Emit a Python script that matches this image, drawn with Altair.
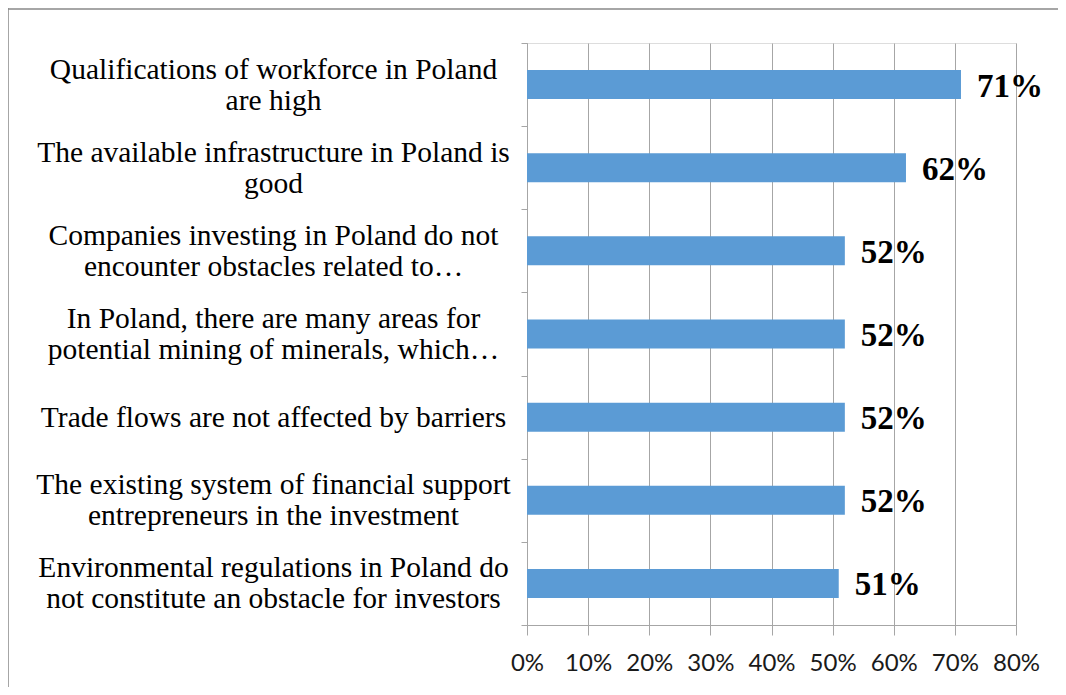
import altair as alt
import pandas as pd

categories = [
    "Qualifications of workforce in Poland|are high",
    "The available infrastructure in Poland is|good",
    "Companies investing in Poland do not|encounter obstacles related to…",
    "In Poland, there are many areas for|potential mining of minerals, which…",
    "Trade flows are not affected by barriers",
    "The existing system of financial support|entrepreneurs in the investment",
    "Environmental regulations in Poland do|not constitute an obstacle for investors",
]
values = [0.71, 0.62, 0.52, 0.52, 0.52, 0.52, 0.51]
x_ticks = [0, 0.1, 0.2, 0.3, 0.4, 0.5, 0.6, 0.7, 0.8]

df = pd.DataFrame({"cat": categories, "value": values})

GRID = "#A6A6A6"

y_enc = alt.Y(
    "cat:N",
    sort=categories,
    scale=alt.Scale(paddingInner=0, paddingOuter=0),
    axis=alt.Axis(
        title=None,
        labelExpr="split(datum.label, '|')",
        labelFont="Liberation Serif",
        labelFontSize=29.5,
        labelColor="#000000",
        labelAlign="center",
        labelPadding=248,
        labelLimit=900,
        labelLineHeight=31,
        labelOffset={
            "condition": {"test": "indexof(datum.label, '|') >= 0", "value": -15.5},
            "value": 0,
        },
        tickSize=6,
        tickColor=GRID,
        domainColor=GRID,
        tickBand="extent",
        grid=False,
    ),
)

x_enc = alt.X(
    "value:Q",
    scale=alt.Scale(domain=[0, 0.8], nice=False),
    axis=alt.Axis(
        title=None,
        format=".0%",
        values=x_ticks,
        grid=True,
        gridColor=GRID,
        domainColor=GRID,
        tickColor=GRID,
        tickSize=10,
        labelFont="Lato",
        labelFontSize=24,
        labelColor="#1A1A1A",
        labelPadding=16,
        labelOverlap=False,
        labelFlush=False,
    ),
)

base = alt.Chart(df).encode(y=y_enc)

bars = base.mark_bar(color="#5B9BD5", height=29).encode(x=x_enc)

labels = base.mark_text(
    align="left",
    baseline="middle",
    dx=16,
    dy=2,
    font="Liberation Serif",
    fontWeight="bold",
    fontSize=33,
    color="#000000",
).encode(x=alt.X("value:Q"), text=alt.Text("value:Q", format=".0%"))

frame_df = pd.DataFrame({"k": [0]})
left_border = alt.Chart(frame_df).mark_rule(color="#888888", strokeWidth=1.5).encode(
    x=alt.value(-519), y=alt.value(-35), y2=alt.value(700)
)
top_border = alt.Chart(frame_df).mark_rule(color="#888888", strokeWidth=1.5).encode(
    x=alt.value(-519), x2=alt.value(800), y=alt.value(-34)
)

chart = (
    alt.layer(bars, labels, left_border, top_border)
    .properties(
        width=489,
        height=582,
        autosize=alt.AutoSizeParams(type="none"),
        padding={"left": 519, "top": 35, "right": 42, "bottom": 62},
    )
    .configure_view(stroke=None)
    .configure(background="#FFFFFF")
)

chart.save("out.html", embed_options={"renderer": "svg", "actions": False})
